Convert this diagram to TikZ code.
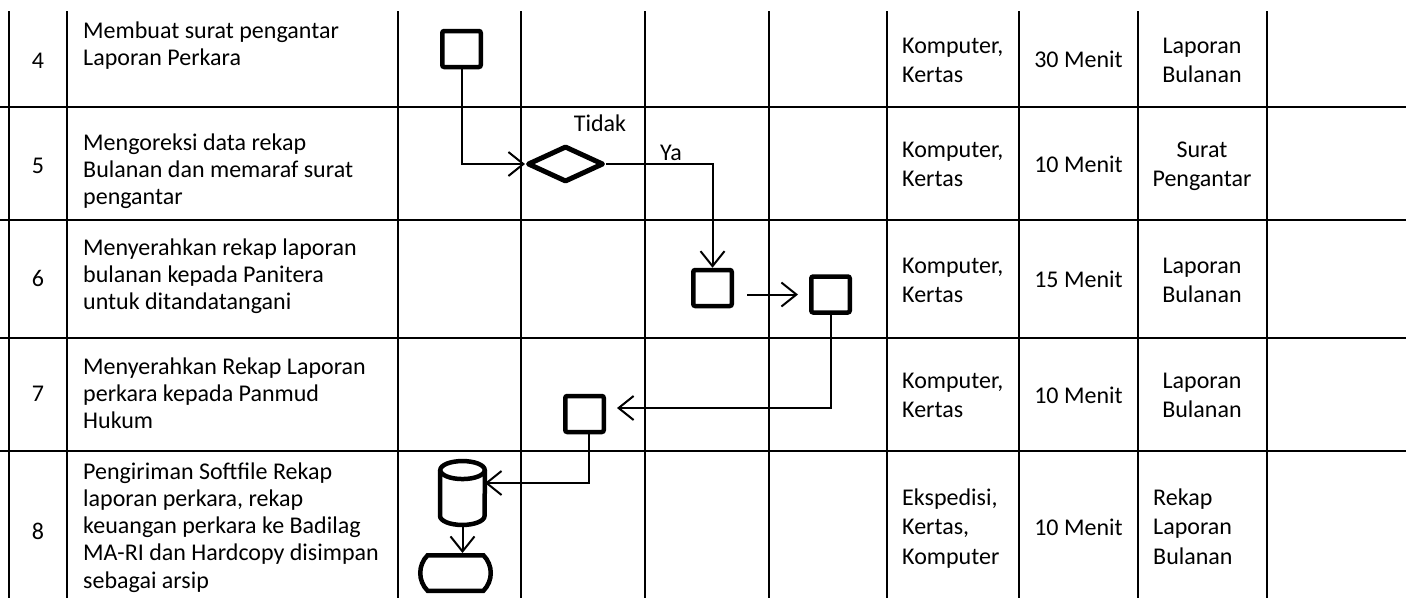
\documentclass[tikz,border=0pt]{standalone}
\usepackage{fontspec}
\setmainfont{Carlito}
\usetikzlibrary{arrows.meta,shapes.geometric,shapes.misc}

\begin{document}
\begin{tikzpicture}[x=1pt,y=-1pt,
  grid/.style={line width=2.5pt},
  box/.style={draw, line width=4.5pt, rounded corners=2pt,
    minimum width=38.5pt, minimum height=36pt, inner sep=0pt},
  decision/.style={diamond, draw, line width=5pt, line join=round,
    minimum width=76pt, minimum height=36pt, inner sep=0pt},
  shapeline/.style={line width=4.5pt},
  conn/.style={line width=2pt,
    -{Straight Barb[length=15pt,width=24pt,line width=2pt]}},
  txt/.style={inner sep=0pt, font=\fontsize{24}{27.3}\selectfont},
  cell/.style={inner sep=0pt, font=\fontsize{24}{29.5}\selectfont},
]
\useasboundingbox (0,0) rectangle (1406,598);

% table rules
\foreach \y in {107,220,338,451}
  \draw[grid] (0,\y) -- (1406,\y);
\foreach \x in {9,67,398,521,645,769,887,1019,1138,1267}
  \draw[grid] (\x,11) -- (\x,598);

% step numbers
\node[txt, anchor=base] (n4) at (38,68) {4};
\node[txt, anchor=base] (n5) at (38,173) {5};
\node[txt, anchor=base] (n6) at (38,286) {6};
\node[txt, anchor=base] (n7) at (38,401) {7};
\node[txt, anchor=base] (n8) at (38,539) {8};

% activities (anchored on the baseline of the last line)
\node[txt, anchor=base west, align=left] (a4) at (83,65.3)
  {Membuat surat pengantar\\Laporan Perkara};
\node[txt, anchor=base west, align=left] (a5) at (83,204.6)
  {Mengoreksi data rekap\\Bulanan dan memaraf surat\\pengantar};
\node[txt, anchor=base west, align=left] (a6) at (83,309.6)
  {Menyerahkan rekap laporan\\bulanan kepada Panitera\\untuk ditandatangani};
\node[txt, anchor=base west, align=left] (a7) at (83,428.6)
  {Menyerahkan Rekap Laporan\\perkara kepada Panmud\\Hukum};
\node[txt, anchor=base west, align=left] (a8) at (83,588.2)
  {Pengiriman Softfile Rekap\\laporan perkara, rekap\\keuangan perkara ke Badilag\\MA-RI dan Hardcopy disimpan\\sebagai arsip};

% equipment
\node[cell, anchor=base west, align=left] (k4) at (902,82.5) {Komputer,\\Kertas};
\node[cell, anchor=base west, align=left] (k5) at (902,186.5) {Komputer,\\Kertas};
\node[cell, anchor=base west, align=left] (k6) at (902,302.5) {Komputer,\\Kertas};
\node[cell, anchor=base west, align=left] (k7) at (902,417.5) {Komputer,\\Kertas};
\node[cell, anchor=base west, align=left] (k8) at (902,564) {Ekspedisi,\\Kertas,\\Komputer};

% time
\node[cell, anchor=base] (w4) at (1078.5,67) {30 Menit};
\node[cell, anchor=base] (w5) at (1078.5,172) {10 Menit};
\node[cell, anchor=base] (w6) at (1078.5,287) {15 Menit};
\node[cell, anchor=base] (w7) at (1078.5,403) {10 Menit};
\node[cell, anchor=base] (w8) at (1078.5,535) {10 Menit};

% output
\node[cell, anchor=base, align=center] (o4) at (1202,82.5) {Laporan\\Bulanan};
\node[cell, anchor=base, align=center] (o5) at (1202,186.5) {Surat\\Pengantar};
\node[cell, anchor=base, align=center] (o6) at (1202,302.5) {Laporan\\Bulanan};
\node[cell, anchor=base, align=center] (o7) at (1202,417.5) {Laporan\\Bulanan};
\node[cell, anchor=base west, align=left] (o8) at (1153,564) {Rekap\\Laporan\\Bulanan};

% flow symbols
\node[box] (s4) at (461.5,49) {};
\node[decision] (d5) at (565.5,164) {};
\node[box] (s6a) at (712.5,288) {};
\node[box] (s6b) at (830.5,294.5) {};
\node[box] (s7) at (584.5,414) {};
\node[inner sep=0pt, minimum width=44.5pt, minimum height=63.5pt] (cyl) at (462.5,493) {};
\node[rounded rectangle, rounded rectangle arc length=90, draw, line width=4.5pt,
  minimum width=70.5pt, minimum height=35.5pt, inner sep=0pt] (t8) at (455.5,573) {};

% storage drum
\draw[shapeline] ([yshift=-9pt]cyl.north west) -- ([yshift=9pt]cyl.south west)
  arc[start angle=180, end angle=360, x radius=22.25pt, y radius=9pt]
  -- ([yshift=-9pt]cyl.north east);
\draw[shapeline] ([yshift=-9pt]cyl.north) ellipse[x radius=22.25pt, y radius=9pt];

% decision labels
\node[txt, anchor=base] (tidak) at (600,131) {Tidak};
\node[txt, anchor=base] (ya) at (671,160) {Ya};

% connectors
\draw[conn] (s4.south) |- (d5.west);
\draw[conn] (d5.east) -| (s6a.north);
\draw[conn, shorten <=13pt, shorten >=11pt] (s6a.east |- s6b.west) -- (s6b.west);
\draw[conn, shorten >=11pt] (s6b.south) |- ([yshift=6pt]s7.east);
\draw[conn] ([xshift=4pt]s7.south) |- ([yshift=10pt]cyl.east);
\draw[conn] (cyl.south) -- (cyl.south |- t8.north);
\end{tikzpicture}
\end{document}
